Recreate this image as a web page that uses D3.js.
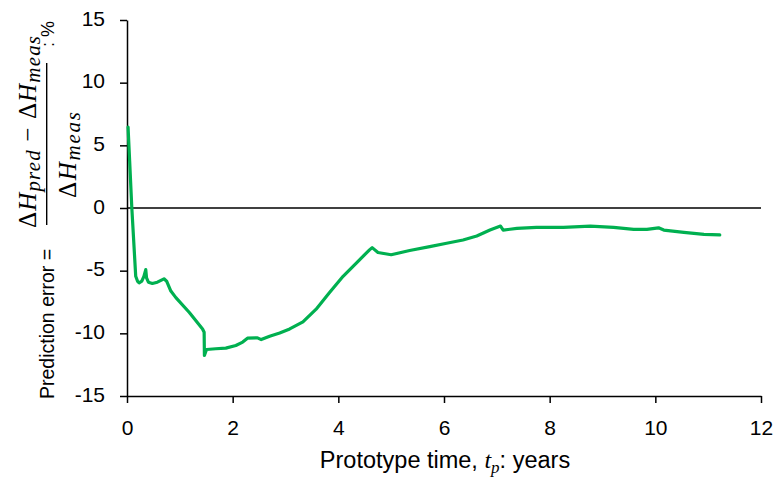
<!DOCTYPE html>
<html>
<head>
<meta charset="utf-8">
<script src="https://cdn.jsdelivr.net/npm/d3@7"></script>
<style>
  html, body { margin: 0; padding: 0; background: #fff; }
  svg { display: block; }
</style>
</head>
<body>
<svg id="chart" width="776" height="479"></svg>
<script>
// ---- data ----
const timeYears = [0.02, 0.05, 0.09, 0.14, 0.165, 0.2, 0.23, 0.28, 0.32, 0.355, 0.37, 0.405, 0.48, 0.575, 0.70, 0.75, 0.83, 0.925, 1.18, 1.43, 1.46, 1.465, 1.505, 1.68, 1.87, 2.06, 2.19, 2.28, 2.47, 2.54, 2.70, 2.89, 3.08, 3.33, 3.58, 3.83, 4.09, 4.34, 4.59, 4.64, 4.75, 5.0, 5.35, 5.73, 6.05, 6.36, 6.62, 6.87, 7.07, 7.12, 7.38, 7.75, 8.26, 8.77, 9.21, 9.59, 9.84, 10.06, 10.16, 10.54, 10.92, 11.22];
const errorPct = [6.45, 3.77, 0.1, -3.6, -5.45, -5.85, -5.97, -5.84, -5.45, -4.92, -5.57, -5.92, -6.02, -5.92, -5.65, -5.84, -6.63, -7.15, -8.34, -9.65, -9.91, -11.76, -11.29, -11.23, -11.18, -10.97, -10.7, -10.39, -10.36, -10.5, -10.23, -9.97, -9.65, -9.08, -8.07, -6.76, -5.45, -4.39, -3.34, -3.16, -3.55, -3.73, -3.39, -3.08, -2.81, -2.55, -2.23, -1.76, -1.44, -1.76, -1.63, -1.55, -1.55, -1.44, -1.55, -1.71, -1.71, -1.58, -1.76, -1.94, -2.1, -2.15];
const xTicks = [0, 2, 4, 6, 8, 10, 12];
const yTicks = [-15, -10, -5, 0, 5, 10, 15];

// ---- layout ----
const svg = d3.select("#chart");
const mLeft = 127, mRight = 761, mTop = 20, mBottom = 396;

const x = d3.scaleLinear().domain([0, 12]).range([mLeft, mRight]);
const y = d3.scaleLinear().domain([-15, 15]).range([mBottom, mTop]);

const font = "'Liberation Sans', Arial, sans-serif";
const serif = "'Liberation Serif', 'Times New Roman', serif";

// x axis
const gx = svg.append("g").attr("transform", `translate(0,${mBottom})`)
  .call(d3.axisBottom(x).tickValues(xTicks).tickFormat(d => String(d))
    .tickSize(7).tickPadding(17).tickSizeOuter(0));
// y axis
const gy = svg.append("g").attr("transform", `translate(${mLeft},0)`)
  .call(d3.axisLeft(y).tickValues(yTicks).tickFormat(d => String(d))
    .tickSize(7).tickPadding(15).tickSizeOuter(0));

[gx, gy].forEach(g => {
  g.select(".domain").attr("stroke", "#000").attr("stroke-width", 1.5);
  g.selectAll(".tick line").attr("stroke", "#000").attr("stroke-width", 1.5);
  g.selectAll(".tick text").attr("font-family", font).attr("font-size", 21).attr("fill", "#000");
});
gy.selectAll(".tick text").attr("dy", "0.25em");

// zero line
svg.append("line")
  .attr("x1", x(0)).attr("x2", x(12))
  .attr("y1", y(0)).attr("y2", y(0))
  .attr("stroke", "#000").attr("stroke-width", 1.5);

// data line
const data = timeYears.map((t, i) => [t, errorPct[i]]);
svg.append("path")
  .datum(data)
  .attr("fill", "none")
  .attr("stroke", "#00b050")
  .attr("stroke-width", 3.2)
  .attr("stroke-linejoin", "round")
  .attr("stroke-linecap", "round")
  .attr("d", d3.line().x(d => x(d[0])).y(d => y(d[1])));

// x axis title
const xt = svg.append("text")
  .attr("x", 445).attr("y", 468)
  .attr("text-anchor", "middle")
  .attr("font-family", font).attr("font-size", 23.5).attr("fill", "#000");
xt.append("tspan").text("Prototype time, ");
xt.append("tspan").attr("font-family", serif).attr("font-style", "italic").attr("font-size", 24).text("t");
xt.append("tspan").attr("font-family", serif).attr("font-style", "italic").attr("font-size", 17).attr("dy", 5).text("p");
xt.append("tspan").attr("dy", -5).text(": years");

// y axis title (rotated): screen y = -rx, screen x = ry
const yl = svg.append("g").attr("transform", "rotate(-90)");

yl.append("text")
  .attr("x", -399).attr("y", 54)
  .attr("font-family", font).attr("font-size", 19.5).attr("fill", "#000")
  .text("Prediction error =");

// numerator
const num = yl.append("text")
  .attr("x", -228).attr("y", 36)
  .attr("textLength", 192).attr("lengthAdjust", "spacing")
  .attr("font-family", serif).attr("font-size", 25).attr("fill", "#000");
num.append("tspan").text("Δ");
num.append("tspan").attr("font-style", "italic").text("H");
num.append("tspan").attr("font-style", "italic").attr("font-size", 21).attr("dy", 3.5).text("pred");
num.append("tspan").attr("dy", -3.5).text(" − Δ");
num.append("tspan").attr("font-style", "italic").text("H");
num.append("tspan").attr("font-style", "italic").attr("font-size", 21).attr("dy", 3.5).text("meas");

// fraction bar
yl.append("line")
  .attr("x1", -225).attr("x2", -63)
  .attr("y1", 46.7).attr("y2", 46.7)
  .attr("stroke", "#000").attr("stroke-width", 1.4);

// denominator
const den = yl.append("text")
  .attr("x", -198).attr("y", 76)
  .attr("textLength", 86).attr("lengthAdjust", "spacing")
  .attr("font-family", serif).attr("font-size", 25).attr("fill", "#000");
den.append("tspan").text("Δ");
den.append("tspan").attr("font-style", "italic").text("H");
den.append("tspan").attr("font-style", "italic").attr("font-size", 21).attr("dy", 3.5).text("meas");

// ": %"
yl.append("text")
  .attr("x", -47).attr("y", 54)
  .attr("font-family", font).attr("font-size", 18).attr("fill", "#000")
  .text(": %");
</script>
</body>
</html>
